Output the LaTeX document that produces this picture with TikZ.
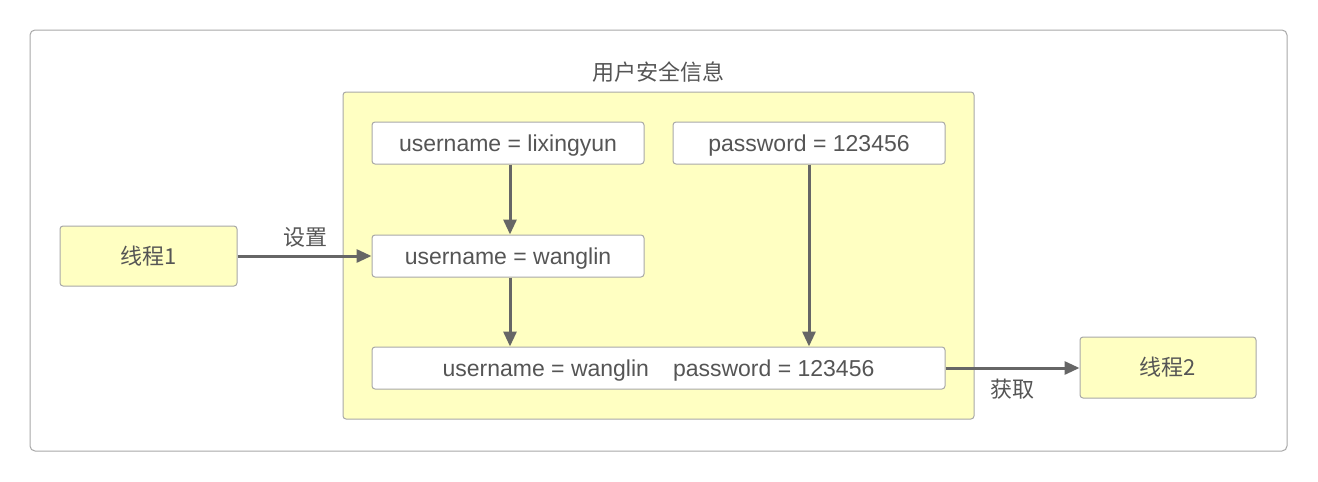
\documentclass[tikz,border=0pt]{standalone}
\usepackage{fontspec}
\setmainfont{Liberation Sans}
\newfontfamily\cjk{Noto Sans CJK SC}
\usetikzlibrary{arrows.meta}
\definecolor{txt}{HTML}{555555}
\definecolor{ylw}{HTML}{FFFFC2}
\definecolor{edge}{HTML}{A8A8A8}
\definecolor{arr}{HTML}{666666}
\tikzset{
  box/.style={draw=edge, line width=1pt, rounded corners=3pt, fill=white, text=txt, font=\fontsize{23}{26}\selectfont, text height=18pt, text depth=2pt},
  thread/.style={draw=edge, line width=1pt, rounded corners=3pt, fill=ylw, text=txt, font=\cjk\fontsize{22}{26}\selectfont},
  conn/.style={draw=arr, line width=3pt, -{Triangle[length=15pt,width=13pt]}},
  lbl/.style={text=txt, font=\cjk\fontsize{22}{26}\selectfont}
}
\begin{document}
\begin{tikzpicture}[x=1pt,y=-1pt]
\useasboundingbox (0,0) rectangle (1318,482);
\fill[white] (0,0) rectangle (1318,482);
\draw[edge, line width=1pt, rounded corners=5pt] (30,30) rectangle (1287,451);
\draw[edge, fill=ylw, line width=1pt, rounded corners=3pt] (343,92) rectangle (974,419);
\node[lbl] (title) at (658,72) {用户安全信息};
\node[box, minimum width=272pt, minimum height=42pt] (b1) at (508,143) {username = lixingyun};
\node[box, minimum width=272pt, minimum height=42pt] (b2) at (809,143) {password = 123456};
\node[box, minimum width=272pt, minimum height=42pt] (b3) at (508,256) {username = wanglin};
\node[box, minimum width=573pt, minimum height=42pt] (b4) at (658.5,368) {username = wanglin\hspace{24pt}password = 123456};
\node[thread, minimum width=177pt, minimum height=60pt] (t1) at (148.5,256) {线程1};
\node[thread, minimum width=176pt, minimum height=61pt] (t2) at (1168,367.5) {线程2};
\draw[conn] (t1.east) -- (b3.west);
\node[lbl] (l1) at (305,237) {设置};
\draw[conn] (b1.south -| 510,0) -- (b3.north -| 510,0);
\draw[conn] (b3.south -| 510,0) -- (b4.north -| 510,0);
\draw[conn] (b2.south) -- (b2.south |- b4.north);
\draw[conn] (b4.east) -- (b4.east -| t2.west);
\node[lbl] (l2) at (1012,389) {获取};
\end{tikzpicture}
\end{document}
